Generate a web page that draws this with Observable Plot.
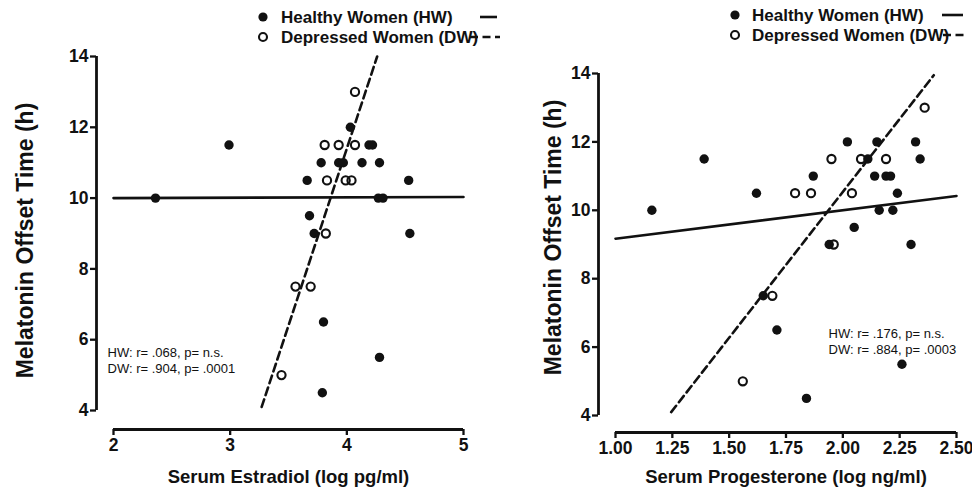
<!DOCTYPE html>
<html><head><meta charset="utf-8">
<script src="https://cdn.jsdelivr.net/npm/d3@7"></script>
<script src="https://cdn.jsdelivr.net/npm/@observablehq/plot@0.6"></script>
<style>
body{margin:0;background:#fff;}
#wrap{position:relative;width:972px;height:491px;display:flex;font-family:"Liberation Sans",Arial,sans-serif;}
#legend{position:absolute;left:0;top:0;pointer-events:none;}
</style></head><body><div id="wrap"></div>
<script>
// ---- Data ----
const yTicks = [4, 6, 8, 10, 12, 14];
const yTitle = "Melatonin Offset Time (h)";

// Left panel: Serum Estradiol
const e2Ticks = [2, 3, 4, 5];
const e2Title = "Serum Estradiol (log pg/ml)";
const e2HwX = [2.36, 2.99, 4.03, 4.19, 4.22, 3.78, 3.93, 3.97, 4.13, 4.28, 3.66, 4.53, 4.27, 4.31, 3.68, 3.72, 4.54, 3.80, 4.28, 3.79];
const e2HwY = [10.0, 11.5, 12.0, 11.5, 11.5, 11.0, 11.0, 11.0, 11.0, 11.0, 10.5, 10.5, 10.0, 10.0, 9.5, 9.0, 9.0, 6.5, 5.5, 4.5];
const e2DwX = [3.81, 3.93, 4.07, 3.83, 3.99, 4.04, 3.82, 3.56, 3.69, 4.07, 3.44];
const e2DwY = [11.5, 11.5, 11.5, 10.5, 10.5, 10.5, 9.0, 7.5, 7.5, 13.0, 5.0];
const e2HwLineX = [2.0, 5.0];
const e2HwLineY = [10.0, 10.03];
const e2DwLineX = [3.27, 4.26];
const e2DwLineY = [4.1, 14.0];
const e2Note = "HW: r= .068, p= n.s.\nDW: r= .904, p= .0001";

// Right panel: Serum Progesterone
const p4Ticks = [1.00, 1.25, 1.50, 1.75, 2.00, 2.25, 2.50];
const p4Title = "Serum Progesterone (log ng/ml)";
const p4HwX = [1.16, 1.39, 1.62, 1.87, 2.02, 2.15, 2.32, 2.11, 2.34, 2.14, 2.19, 2.21, 2.24, 2.16, 2.22, 2.05, 1.94, 2.30, 1.65, 1.71, 2.26, 1.84];
const p4HwY = [10.0, 11.5, 10.5, 11.0, 12.0, 12.0, 12.0, 11.5, 11.5, 11.0, 11.0, 11.0, 10.5, 10.0, 10.0, 9.5, 9.0, 9.0, 7.5, 6.5, 5.5, 4.5];
const p4DwX = [2.36, 1.95, 2.08, 2.19, 1.79, 1.86, 2.04, 1.96, 1.69, 1.56];
const p4DwY = [13.0, 11.5, 11.5, 11.5, 10.5, 10.5, 10.5, 9.0, 7.5, 5.0];
const p4HwLineX = [1.0, 2.5];
const p4HwLineY = [9.17, 10.42];
const p4DwLineX = [1.245, 2.40];
const p4DwLineY = [4.1, 13.95];
const p4Note = "HW: r= .176, p= n.s.\nDW: r= .884, p= .0003";

const legendLabels = ["Healthy Women (HW)", "Depressed Women (DW)"];

// ---- Drawing ----
const INK = "#111";
const FONT = "'Liberation Sans', Arial, Helvetica, sans-serif";

function panel(o) {
  const pts = (xs, ys) => xs.map((x, i) => ({x, y: ys[i]}));
  return Plot.plot({
    width: 486, height: 491,
    marginLeft: o.ml, marginRight: o.mr, marginTop: o.mt, marginBottom: o.mb,
    x: {domain: o.xDomain},
    y: {domain: [4, 14]},
    style: {fontFamily: FONT, color: INK, background: "white", overflow: "visible"},
    marks: [
      Plot.ruleX([o.xDomain[0]], {dx: -o.yOff, stroke: INK, strokeWidth: 2.8}),
      Plot.ruleY([4], {dy: o.xOff, stroke: INK, strokeWidth: 2.8}),
      Plot.axisY({ticks: yTicks, tickSize: 6, dx: -o.yOff, tickPadding: 2, strokeWidth: 2.3,
                  fontSize: 17.5, fontWeight: "bold", label: null}),
      Plot.axisX({ticks: o.xTicks, tickSize: 6, dy: o.xOff, tickPadding: 3, strokeWidth: 2.3,
                  tickFormat: o.tickFormat, fontSize: 17.5, fontWeight: "bold", label: null}),
      Plot.text([yTitle], {frameAnchor: "left", rotate: -90, dx: o.ytDx, dy: o.ytDy,
                  fontSize: 23, fontWeight: "bold", textAnchor: "middle", lineAnchor: "middle", fill: INK}),
      Plot.text([o.xTitle], {frameAnchor: "bottom", dy: o.xtDy,
                  fontSize: 18.5, fontWeight: "bold", textAnchor: "middle", lineAnchor: "middle", fill: INK}),
      Plot.text([o.note], {frameAnchor: "bottom-left", dx: o.noteDx, dy: o.noteDy, textAnchor: "start",
                  lineAnchor: "middle", lineHeight: 1.22, fontSize: 13, fill: INK}),
      Plot.line(pts(o.hwLX, o.hwLY), {x: "x", y: "y", stroke: INK, strokeWidth: 2.6}),
      Plot.line(pts(o.dwLX, o.dwLY), {x: "x", y: "y", stroke: INK, strokeWidth: 2.6, strokeDasharray: "8,4.5"}),
      Plot.dot(pts(o.hwX, o.hwY), {x: "x", y: "y", r: 4.7, fill: INK, stroke: "none"}),
      Plot.dot(pts(o.dwX, o.dwY), {x: "x", y: "y", r: 4.1, fill: "none", stroke: INK, strokeWidth: 2.1})
    ]
  });
}

const wrap = document.getElementById("wrap");
wrap.append(panel({
  ml: 113, mr: 23, mt: 56, mb: 81, yOff: 17, xOff: 19,
  xDomain: [2, 5], xTicks: e2Ticks, tickFormat: d3.format("d"), xTitle: e2Title,
  ytDx: -88, ytDy: 7, xtDy: 67, noteDx: -6, noteDy: -51,
  hwX: e2HwX, hwY: e2HwY, dwX: e2DwX, dwY: e2DwY,
  hwLX: e2HwLineX, hwLY: e2HwLineY, dwLX: e2DwLineX, dwLY: e2DwLineY, note: e2Note
}));
wrap.append(panel({
  ml: 129, mr: 16, mt: 73, mb: 76, yOff: 17, xOff: 17,
  xDomain: [1, 2.5], xTicks: p4Ticks, tickFormat: d3.format(".2f"), xTitle: p4Title,
  ytDx: -62, ytDy: -7, xtDy: 62, noteDx: 213, noteDy: -74.5,
  hwX: p4HwX, hwY: p4HwY, dwX: p4DwX, dwY: p4DwY,
  hwLX: p4HwLineX, hwLY: p4HwLineY, dwLX: p4DwLineX, dwLY: p4DwLineY, note: p4Note
}));

// ---- Legends ----
const legendSpecs = [
  {cx: 263, tx: 281, ys: [17, 37], lines: [[480, 497], [470, 500]]},
  {cx: 735, tx: 752, ys: [15, 35], lines: [[942, 963], [943, 967]]}
];
const lsvg = d3.select(wrap).append("svg").attr("id", "legend").attr("width", 972).attr("height", 60);
legendSpecs.forEach(s => {
  legendLabels.forEach((lab, i) => {
    const y = s.ys[i];
    lsvg.append("circle").attr("cx", s.cx).attr("cy", y).attr("r", i ? 4 : 4.6)
      .attr("fill", i ? "none" : INK).attr("stroke", i ? INK : "none").attr("stroke-width", 2.1);
    lsvg.append("text").attr("x", s.tx).attr("y", y).attr("dy", "0.36em")
      .attr("font-family", FONT).attr("font-weight", "bold").attr("font-size", 17).attr("fill", INK).text(lab);
    lsvg.append("line").attr("x1", s.lines[i][0]).attr("x2", s.lines[i][1]).attr("y1", y).attr("y2", y)
      .attr("stroke", INK).attr("stroke-width", 2.6).attr("stroke-dasharray", i ? "8,4.5" : null);
  });
});
</script></body></html>
